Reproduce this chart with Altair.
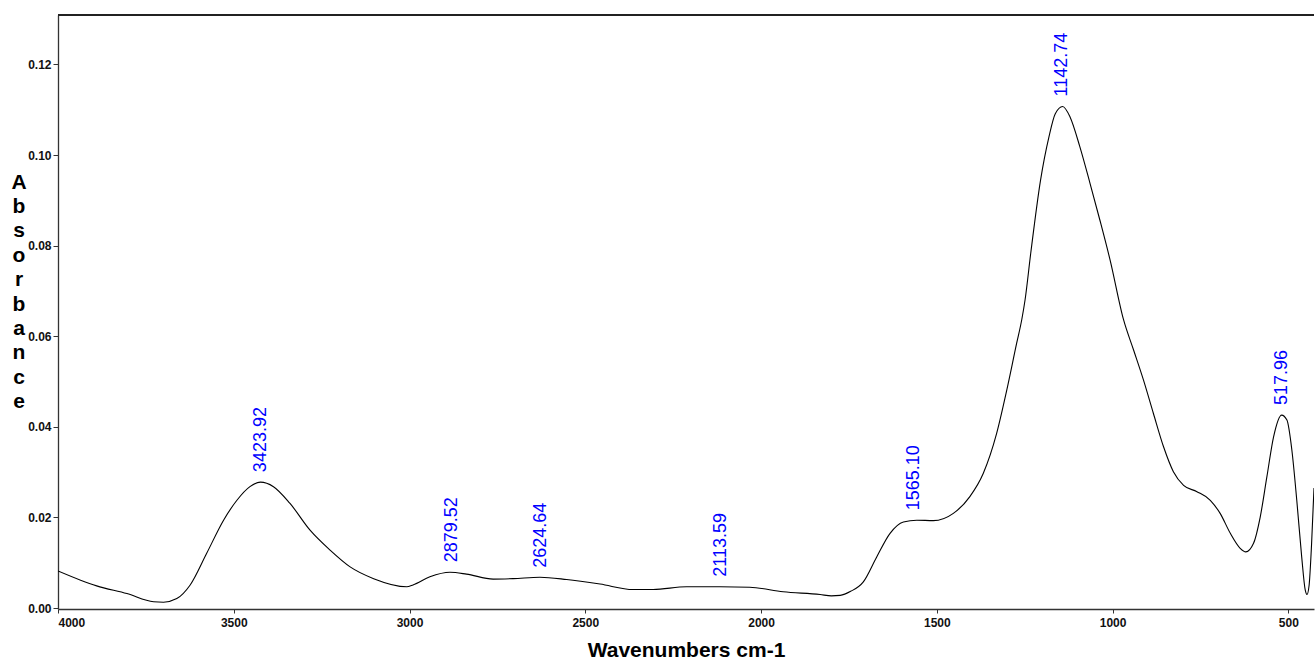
import altair as alt
import pandas as pd

# Spectrum (wavenumber cm-1, absorbance)
wavenumber = [4000, 3890, 3804, 3728, 3700, 3662, 3624, 3577, 3529, 3491, 3454, 3424,
              3387, 3340, 3283, 3226, 3169, 3102, 3008, 2990, 2942, 2885, 2838, 2762,
              2705, 2629, 2553, 2458, 2364, 2307, 2212, 2117, 2032, 1937, 1832, 1800,
              1775, 1745, 1709, 1671, 1633, 1595, 1557, 1510, 1453, 1406, 1368, 1330,
              1301, 1273, 1258, 1249, 1233, 1205, 1181, 1163, 1142, 1121, 1093, 1064,
              1036, 1007, 969, 940, 912, 884, 855, 827, 798, 760, 722, 694, 665, 637,
              621, 599, 580, 561, 542, 519, 504, 490, 476, 462, 452, 447, 441, 434, 427]
absorbance = [0.0082, 0.0049, 0.0032, 0.0014, 0.0013, 0.0021, 0.0051, 0.0121, 0.0194, 0.0238,
              0.0268, 0.0278, 0.0268, 0.0231, 0.0172, 0.0128, 0.0091, 0.0065, 0.0047, 0.0051,
              0.0069, 0.0079, 0.0075, 0.0064, 0.0065, 0.0068, 0.0063, 0.0053, 0.0041, 0.0041,
              0.0047, 0.0047, 0.0046, 0.0036, 0.0030, 0.0027, 0.0028, 0.0037, 0.0058, 0.0113,
              0.0165, 0.0190, 0.0194, 0.0193, 0.0209, 0.0246, 0.0297, 0.0385, 0.0481, 0.0584,
              0.0638, 0.0680, 0.0782, 0.0944, 0.1040, 0.1091, 0.1107, 0.1084, 0.1018, 0.0937,
              0.0856, 0.0768, 0.0637, 0.0569, 0.0503, 0.0430, 0.0356, 0.0301, 0.0271, 0.0257,
              0.0238, 0.0209, 0.0165, 0.0132, 0.0124, 0.0143, 0.0201, 0.0290, 0.0378, 0.0426,
              0.0415, 0.0349, 0.0238, 0.0113, 0.0040, 0.0030, 0.0050, 0.0140, 0.0265]

# Peak annotations
peak_wn = [3423.92, 2879.52, 2624.64, 2113.59, 1565.10, 1142.74, 517.96]
peak_abs = [0.0278, 0.0079, 0.0067, 0.0047, 0.0194, 0.1107, 0.0426]
peak_text = ["3423.92", "2879.52", "2624.64", "2113.59", "1565.10", "1142.74", "517.96"]

x_ticks = [4000, 3500, 3000, 2500, 2000, 1500, 1000, 500]
y_ticks = [0.00, 0.02, 0.04, 0.06, 0.08, 0.10, 0.12]

spec = pd.DataFrame({"wn": wavenumber, "ab": absorbance, "idx": range(len(wavenumber))})
peaks = pd.DataFrame({"wn": peak_wn, "ab": peak_abs, "label": peak_text})

W, H = 1256, 594
FONT = "Liberation Sans"

xscale = alt.Scale(domain=[4000, 427], nice=False, zero=False)
yscale = alt.Scale(domain=[-0.0002, 0.1309], nice=False, zero=False)

xaxis = alt.Axis(values=x_ticks, format="d", title="Wavenumbers cm-1",
                 labelFont=FONT, labelFontSize=12, labelFontWeight="bold", labelColor="#111",
                 tickSize=4, labelPadding=4, tickColor="#333", domainColor="#333",
                 domainWidth=1.3, grid=False,
                 titleFont=FONT, titleFontSize=21, titleFontWeight="bold", titleColor="#000",
                 titlePadding=11)
yaxis = alt.Axis(values=y_ticks, format=".2f",
                 title=list("Absorbance"), titleAngle=0, titleAlign="center",
                 titleBaseline="alphabetic", titleX=-39.5, titleY=173,
                 titleFont=FONT, titleFontSize=21, titleFontWeight="bold",
                 titleLineHeight=24.4, titleColor="#000",
                 labelFont=FONT, labelFontSize=12, labelFontWeight="bold", labelColor="#111",
                 tickSize=5, labelPadding=2, tickColor="#333", domainColor="#333",
                 domainWidth=1.3, grid=False)

line = alt.Chart(spec).mark_line(color="#000", strokeWidth=1.1, interpolate="monotone",
                                 clip=True).encode(
    x=alt.X("wn:Q", scale=xscale, axis=xaxis),
    y=alt.Y("ab:Q", scale=yscale, axis=yaxis),
    order=alt.Order("idx:Q"),
)

labels = alt.Chart(peaks).mark_text(color="#0000ff", font=FONT, fontSize=18, angle=270,
                                    align="left", baseline="middle", dx=10).encode(
    x=alt.X("wn:Q", scale=xscale),
    y=alt.Y("ab:Q", scale=yscale),
    text="label:N",
)

top_border = alt.Chart(peaks).mark_rule(color="#222", strokeWidth=1.3).encode(
    x=alt.value(0), x2=alt.value(W), y=alt.value(0)
)

chart = alt.layer(line, labels, top_border).properties(
    width=W, height=H,
    autosize=alt.AutoSizeParams(type="none"),
    padding={"left": 58, "top": 15, "right": 1, "bottom": 52},
    background="white",
).configure_view(stroke=None)

chart.save("out.html", embed_options={"renderer": "svg", "actions": False})
